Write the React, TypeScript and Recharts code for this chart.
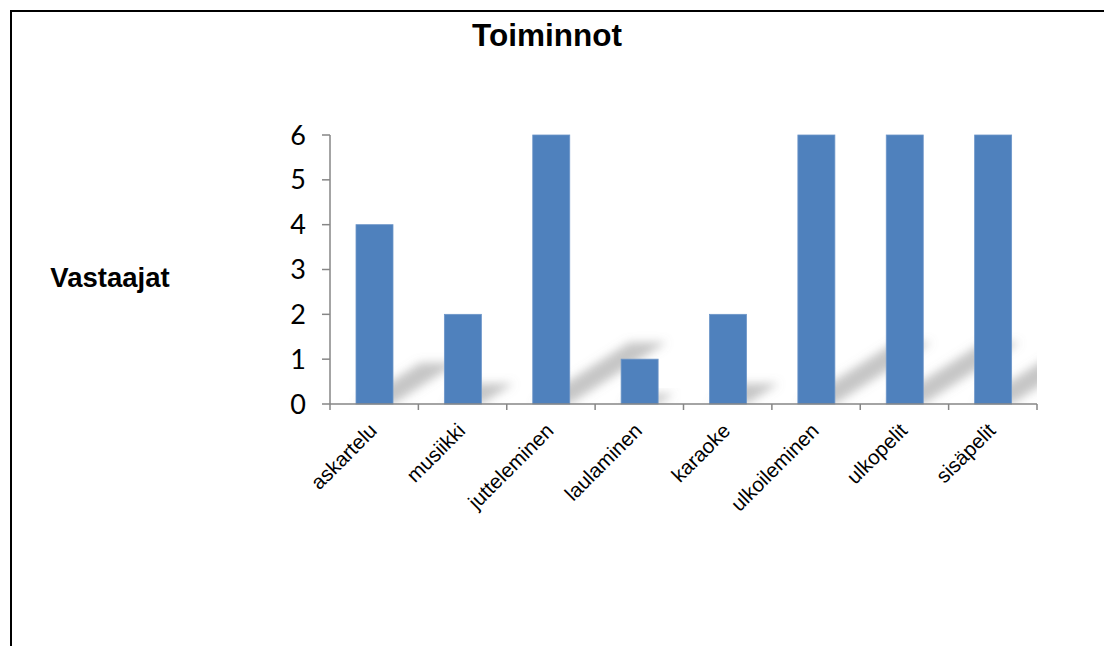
import { Bar, BarChart, XAxis, YAxis } from "recharts";

const categories = [
  "askartelu",
  "musiikki",
  "jutteleminen",
  "laulaminen",
  "karaoke",
  "ulkoileminen",
  "ulkopelit",
  "sisäpelit",
];
const vastaajat = [4, 2, 6, 1, 2, 6, 6, 6];
const yTicks = [0, 1, 2, 3, 4, 5, 6];

const data = categories.map((name, i) => ({ name, value: vastaajat[i] }));

const W = 1104;
const H = 646;
const MARGIN = { top: 135, right: 67, left: 270, bottom: 142 };
const Y_AXIS_W = 60;
const X_AXIS_H = 100;
const PLOT_LEFT = MARGIN.left + Y_AXIS_W;
const PLOT_RIGHT = W - MARGIN.right;
const PLOT_BOTTOM = H - MARGIN.bottom - X_AXIS_H;
const STEP = (PLOT_RIGHT - PLOT_LEFT) / categories.length;
const AXIS_COLOR = "#868686";

function ShadowBar(props: any) {
  const { x, y, width, height, fill } = props;
  const base = y + height;
  const dx = height * 0.36;
  const dy = height * 0.23;
  const pts = [
    [x, base],
    [x + width, base],
    [x + width + dx, base - dy],
    [x + dx, base - dy],
  ]
    .map((p) => p.join(","))
    .join(" ");
  return (
    <g>
      <g clipPath="url(#plotClip)">
        <polygon points={pts} fill="#808080" fillOpacity={0.45} filter="url(#shadowBlur)" />
      </g>
      <rect x={x} y={y} width={width} height={height} fill={fill} stroke="#6d96c9" strokeWidth={0.8} />
    </g>
  );
}

function CategoryTick(props: any) {
  const { x, y, payload, index } = props;
  const half = STEP / 2;
  const ax = x + 4;
  const ay = y + 28;
  return (
    <g>
      <line x1={x - half} x2={x - half} y1={y} y2={y + 6} stroke={AXIS_COLOR} strokeWidth={1.5} />
      {index === categories.length - 1 && (
        <line x1={x + half} x2={x + half} y1={y} y2={y + 6} stroke={AXIS_COLOR} strokeWidth={1.5} />
      )}
      <text
        x={ax}
        y={ay}
        transform={`rotate(-45, ${ax}, ${ay})`}
        textAnchor="end"
        fontFamily="'Liberation Sans', Arial, sans-serif"
        fontSize={20.5}
        fill="#000"
      >
        {payload.value}
      </text>
    </g>
  );
}

export default function App() {
  return (
    <div style={{ position: "fixed", left: 0, top: 0, width: W, height: H, background: "#fff", overflow: "hidden" }}>
      <div
        style={{
          position: "absolute",
          left: 10,
          top: 10,
          width: W,
          height: H,
          border: "2px solid #000",
          boxSizing: "border-box",
        }}
      />
      <svg width={W} height={H} style={{ position: "absolute", left: 0, top: 0 }}>
        <text
          x={547}
          y={46}
          textAnchor="middle"
          fontFamily="'Liberation Sans', Arial, sans-serif"
          fontWeight="bold"
          fontSize={31.5}
          fill="#000"
        >
          Toiminnot
        </text>
        <text
          x={110}
          y={287}
          textAnchor="middle"
          fontFamily="'Liberation Sans', Arial, sans-serif"
          fontWeight="bold"
          fontSize={27.5}
          fill="#000"
        >
          Vastaajat
        </text>
      </svg>
      <div style={{ position: "absolute", left: 0, top: 0 }}>
        <BarChart width={W} height={H} data={data} margin={MARGIN}>
          <defs>
            <filter id="shadowBlur" x="-50%" y="-50%" width="200%" height="200%">
              <feGaussianBlur stdDeviation={5} />
            </filter>
            <clipPath id="plotClip">
              <rect x={PLOT_LEFT} y={0} width={PLOT_RIGHT - PLOT_LEFT} height={PLOT_BOTTOM} />
            </clipPath>
          </defs>
          <XAxis
            dataKey="name"
            height={X_AXIS_H}
            interval={0}
            axisLine={{ stroke: AXIS_COLOR, strokeWidth: 1.5 }}
            tickLine={false}
            tickSize={0}
            tickMargin={0}
            tick={<CategoryTick />}
          />
          <YAxis
            width={Y_AXIS_W}
            domain={[0, 6]}
            ticks={yTicks}
            interval={0}
            axisLine={{ stroke: AXIS_COLOR, strokeWidth: 1.5 }}
            tickLine={{ stroke: AXIS_COLOR, strokeWidth: 1.5 }}
            tickSize={8}
            tickMargin={16}
            tick={{ fill: "#000", fontSize: 27, fontFamily: "Lato, 'Open Sans', sans-serif" }}
          />
          <Bar dataKey="value" fill="#4f81bd" barSize={37} shape={ShadowBar} isAnimationActive={false} />
        </BarChart>
      </div>
    </div>
  );
}
